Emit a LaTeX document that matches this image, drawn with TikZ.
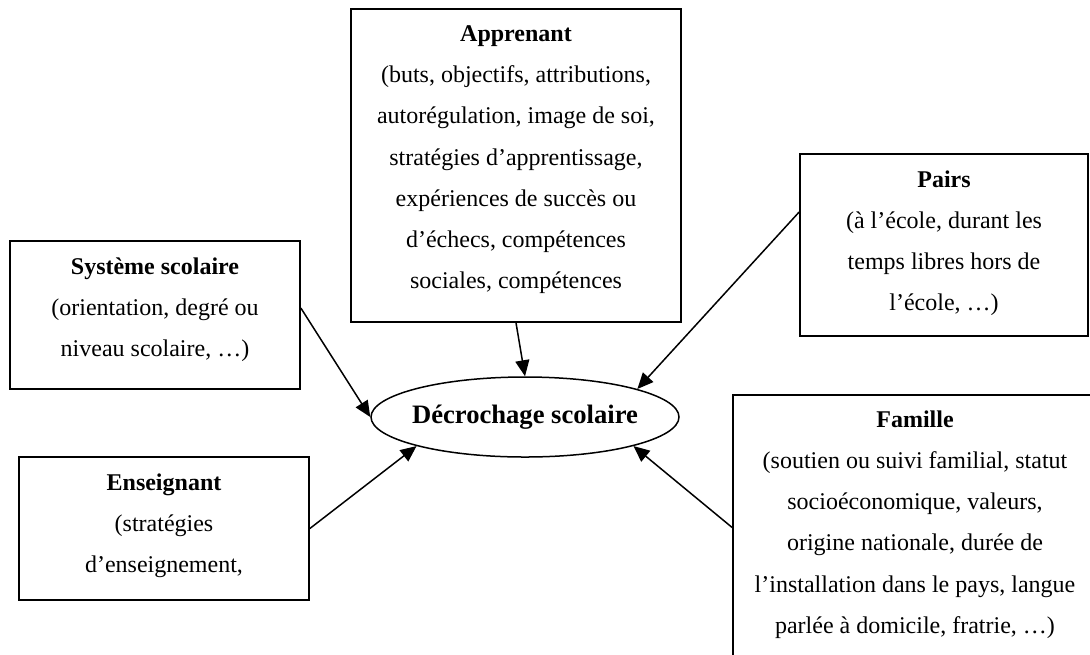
\documentclass[tikz,border=0pt]{standalone}
\usepackage{fontspec}
\setmainfont{Liberation Serif}
\usetikzlibrary{positioning,shapes.geometric,arrows.meta}

\begin{document}
\begin{tikzpicture}[x=1pt, y=-1pt,
                    >={Triangle[length=8pt, width=7pt]},
                    every node/.style={align=center},
                    box/.style={draw, line width=0.85pt, inner sep=0pt},
                    txt/.style={inner sep=0pt, font=\fontsize{12}{20.6}\selectfont},
                    centre/.style={ellipse, draw, line width=0.75pt, inner xsep=-2pt, inner ysep=0pt,
                                   font=\fontsize{13.3}{16}\selectfont\bfseries},
                    link/.style={->, line width=0.75pt}
                ]

                    \clip (0,0) rectangle (545,327);

                    % Boxes
                    \node (apprenant) [box, minimum width=165pt, minimum height=156.5pt] at (258,82.75) {};
                    \node (systeme) [box, minimum width=145pt, minimum height=74pt] at (77.5,157.5) {};
                    \node (pairs) [box, minimum width=144pt, minimum height=91pt] at (472,122.5) {};
                    \node (enseignant) [box, minimum width=145pt, minimum height=71.5pt] at (82,264.25) {};
                    \node (famille) [box, minimum width=182pt, minimum height=132.5pt] at (457.5,263.75) {};
                    \node (decrochage) [centre, minimum width=154pt, minimum height=40pt] at (262.5,208.5) {Décrochage scolaire};

                    % Texts
                    \node (apprenant-txt) [txt, below=8.5pt of apprenant.north] {\textbf{Apprenant}\\
                        (buts, objectifs, attributions,\\ autorégulation, image de soi,\\
                        stratégies d’apprentissage,\\ expériences de succès ou\\
                        d’échecs, compétences\\ sociales, compétences};
                    \node (systeme-txt) [txt, below=8.5pt of systeme.north] {\textbf{Système scolaire}\\
                        (orientation, degré ou\\ niveau scolaire, …)};
                    \node (pairs-txt) [txt, below=8.5pt of pairs.north] {\textbf{Pairs}\\
                        (à l’école, durant les\\ temps libres hors de\\ l’école, …)};
                    \node (enseignant-txt) [txt, below=8.5pt of enseignant.north] {\textbf{Enseignant}\\
                        (stratégies\\ d’enseignement,};
                    \node (famille-txt) [txt, below=8pt of famille.north] {\textbf{Famille}\\
                        (soutien ou suivi familial, statut\\ socioéconomique, valeurs,\\
                        origine nationale, durée de\\ l’installation dans le pays, langue\\
                        parlée à domicile, fratrie, …)};

                    % Arrows
                    \draw[link] ([yshift=3.5pt]systeme.east) -- (decrochage.west);
                    \draw[link] (apprenant.south) -- (decrochage.north);
                    \draw[link] ([yshift=16.5pt]pairs.west) -- (decrochage.14);
                    \draw[link] (enseignant.east) -- (decrochage.195);
                    \draw[link] (famille.west) -- (decrochage.345);

                \end{tikzpicture}
\end{document}
